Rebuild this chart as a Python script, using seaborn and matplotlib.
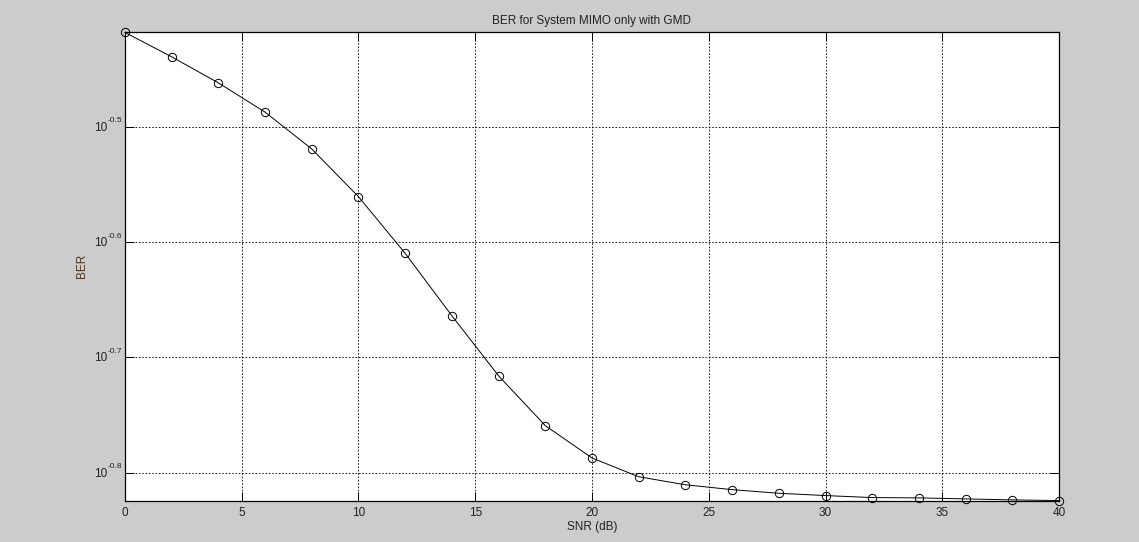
import numpy as np
import pandas as pd
import matplotlib
matplotlib.use("Agg")
import matplotlib.pyplot as plt
import matplotlib.ticker as mticker
import seaborn as sns

# BER vs SNR (semilogy)
snr_db = [0, 2, 4, 6, 8, 10, 12, 14, 16, 18, 20, 22, 24, 26, 28, 30, 32, 34, 36, 38, 40]
ber = [0.3818, 0.3636, 0.3452, 0.3256, 0.3025, 0.2750, 0.2456, 0.2168, 0.1923,
       0.1741, 0.1632, 0.1572, 0.1547, 0.1532, 0.1521, 0.1514, 0.1508, 0.1507,
       0.1504, 0.1501, 0.1499]
ytick_exp = ["-0.5", "-0.6", "-0.7", "-0.8"]
xticks = [0, 5, 10, 15, 20, 25, 30, 35, 40]

df = pd.DataFrame({"SNR (dB)": snr_db, "BER": ber})

sns.set_style("ticks")
plt.rcParams["font.family"] = ["Liberation Sans", "DejaVu Sans"]

fig = plt.figure(figsize=(11.39, 5.42), dpi=100, facecolor="#cccccc")
ax = fig.add_axes([0.1097, 0.0756, 0.8201, 0.8648])
ax.set_facecolor("white")

sns.lineplot(data=df, x="SNR (dB)", y="BER", ax=ax, color="black", linewidth=0.7,
             marker="o", markersize=6, markerfacecolor="none",
             markeredgecolor="black", markeredgewidth=0.7, clip_on=False, zorder=5)

ax.set_yscale("log")
ax.set_xlim(0, 40)
ax.set_ylim(10 ** -0.8246, 10 ** -0.4181)
ax.yaxis.set_major_locator(mticker.FixedLocator([10 ** float(e) for e in ytick_exp]))
ax.yaxis.set_minor_locator(mticker.NullLocator())
ax.yaxis.set_major_formatter(mticker.NullFormatter())
ax.set_xticks(xticks)
ax.set_xticklabels([str(t) for t in xticks])

# MATLAB-style "10^-0.5" labels: base plus a small raised exponent with a plain hyphen
for e in ytick_exp:
    yv = 10 ** float(e)
    ax.annotate("10", xy=(0, yv), xycoords=("axes fraction", "data"),
                xytext=(-18, -1), textcoords="offset pixels",
                ha="right", va="center", fontsize=8.5, color="#222222",
                annotation_clip=False)
    ax.annotate(e, xy=(0, yv), xycoords=("axes fraction", "data"),
                xytext=(-3, 6), textcoords="offset pixels",
                ha="right", va="center", fontsize=6, color="#222222",
                annotation_clip=False)

ax.grid(True, which="major", linestyle=(0, (2, 2)), color="black", linewidth=0.6)
ax.tick_params(direction="in", length=6.5, width=0.7, top=True, right=True,
               labelsize=8.5, colors="black")
ax.tick_params(axis="x", pad=4, labelcolor="#222222")
for s in ax.spines.values():
    s.set_color("black")
    s.set_linewidth(0.9)

ax.set_title("BER for System MIMO only with GMD", fontsize=8.5, pad=6, color="#222222")
ax.set_xlabel("SNR (dB)", fontsize=8.5, labelpad=2, color="#222222")
ax.set_ylabel("")
fig.text(82 / 1139, 1 - 266 / 542, "BER", rotation=90, ha="center", va="center",
         fontsize=8.5, color="#4a3620")

fig.savefig("out.png", dpi=100, facecolor=fig.get_facecolor())
